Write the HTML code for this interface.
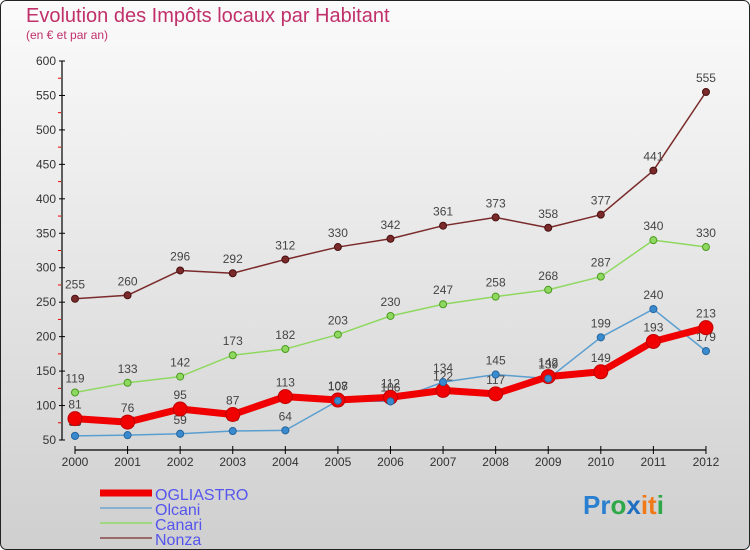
<!DOCTYPE html>
<html><head><meta charset="utf-8"><style>
body{margin:0}
#wrap{width:750px;height:550px;position:relative;overflow:hidden;font-family:"Liberation Sans",sans-serif}
</style></head><body>
<div id="wrap">
<svg id="chart" width="750" height="550" viewBox="0 0 750 550" xmlns="http://www.w3.org/2000/svg">
<defs>
<linearGradient id="bg" x1="0" y1="0" x2="0" y2="1"><stop offset="0" stop-color="#fbfbfb"/><stop offset="1" stop-color="#cfcfcf"/></linearGradient>
</defs>
<rect x="0.5" y="0.5" width="749" height="549" rx="6" fill="url(#bg)" stroke="#222"/>
<text x="26" y="22" font-size="20" fill="#c0306a">Evolution des Impôts locaux par Habitant</text>
<text x="26" y="39" font-size="12" fill="#c0306a">(en € et par an)</text>
<g id="axes"></g>
<g id="series"></g>
<g id="legend"></g>
<text x="583" y="514" font-size="26" font-weight="bold"><tspan fill="#2a7fd0">Pr</tspan><tspan fill="#2fa84a">o</tspan><tspan fill="#1f6fc0">x</tspan><tspan fill="#f07a1a">it</tspan><tspan fill="#2fa84a">i</tspan></text>
</svg>
</div>
<script>
const years=[2000,2001,2002,2003,2004,2005,2006,2007,2008,2009,2010,2011,2012];
const yTicks=[50,100,150,200,250,300,350,400,450,500,550,600];
const ogliastro=[81,76,95,87,113,108,112,122,117,142,149,193,213];
const olcani=[56,57,59,63,64,107,106,134,145,139,199,240,179];
const canari=[119,133,142,173,182,203,230,247,258,268,287,340,330];
const nonza=[255,260,296,292,312,330,342,361,373,358,377,441,555];
const NS="http://www.w3.org/2000/svg";
function xs(i){return 75+i*52.58;}
function ys(v){return 440-(v-50)*(379/550);}
function mk(tag,attrs,parent){const e=document.createElementNS(NS,tag);for(const k in attrs)e.setAttribute(k,attrs[k]);parent.appendChild(e);return e;}
const axes=document.getElementById('axes');
let yl=mk('line',{x1:62,y1:ys(600),x2:62,y2:440,stroke:'#000','stroke-width':1.2},axes);


let xl=mk('line',{x1:75,y1:450,x2:706,y2:450,stroke:'#000','stroke-width':1.2},axes);


yTicks.forEach(v=>{
  mk('line',{x1:59,y1:ys(v),x2:65,y2:ys(v),stroke:'#000'},axes);
  let t=mk('text',{x:56,y:ys(v)+4,'font-size':12,'text-anchor':'end',fill:'#333'},axes);
  t.textContent=v;
  
  
  if(v<600) mk('line',{x1:58,y1:ys(v+25),x2:61,y2:ys(v+25),stroke:'#e00'},axes);
});
years.forEach((y,i)=>{
  mk('line',{x1:xs(i),y1:446,x2:xs(i),y2:454,stroke:'#000'},axes);
  let t=mk('text',{x:xs(i),y:466,'font-size':12,'text-anchor':'middle',fill:'#333'},axes);
  t.textContent=y;
  
  
});
const ser=document.getElementById('series');
function draw(data,color,w,r,name,dark){
  const g=mk('g',{},ser);
  
  
  let p=mk('polyline',{points:data.map((v,i)=>xs(i)+','+ys(v)).join(' '),fill:'none',stroke:color,'stroke-width':w,'stroke-linejoin':'round'},g);
  
  
  data.forEach((v,i)=>{
    let c=mk('circle',{cx:xs(i),cy:ys(v),r:r,fill:color,stroke:dark,'stroke-width':1},g);
    
    
    let t=mk('text',{x:xs(i),y:ys(v)-10,'font-size':12,'text-anchor':'middle',fill:'#444'},g);
    t.textContent=v;
    
    
  });
}
draw(nonza,'#7a2a2a',1.5,3.5,'nonza','#4a1010');
draw(canari,'#8fd860',1.5,3.5,'canari','#4a9a20');
draw(olcani,'#5a9ed0',1.5,3.5,'olcani','#2a6aa0');
draw(ogliastro,'#f00000',7,7,'ogliastro','#c00000');
// re-draw olcani points on top
olcani.forEach((v,i)=>{let c=mk('circle',{cx:xs(i),cy:ys(v),r:3.5,fill:'#3a8ad0',stroke:'#2a6aa0'},ser);

});
const leg=document.getElementById('legend');
const lnames=['OGLIASTRO','Olcani','Canari','Nonza'];
const lcolors=['#f00000','#88b0d0','#a0d880','#9a6a6a'];
const lw=[7,2,2,2];
lnames.forEach((n,i)=>{
  const y=493+i*15;
  let l=mk('line',{x1:100,y1:y,x2:152,y2:y,stroke:lcolors[i],'stroke-width':lw[i]},leg);
  
  
  let t=mk('text',{x:155,y:y+7,'font-size':16,fill:'#5555ee'},leg);
  t.textContent=n;
  
  
});
</script>
</body></html>
